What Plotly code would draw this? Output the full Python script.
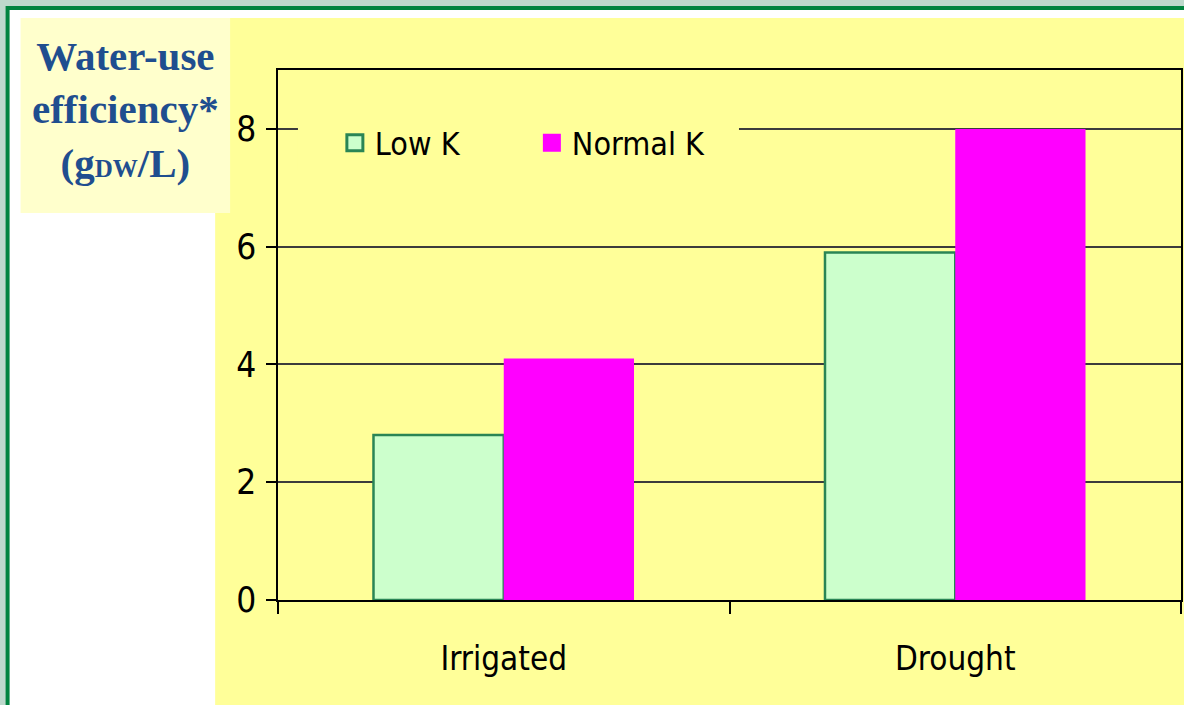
import plotly.graph_objects as go

# ---- data ----
categories = ["Irrigated", "Drought"]
low_k = [2.8, 5.9]
normal_k = [4.1, 8.0]
series_names = ["Low K", "Normal K"]
y_ticks = [0, 2, 4, 6, 8]
y_title_lines = ["Water-use", "efficiency*", "(g<span style='font-size:25px'>DW</span>/L)"]

W, H = 1184, 705
L, R, T, B = 278, 1, 70, 105
PW, PH = W - L - R, H - T - B


def px(x):
    return (x - L) / PW


def py(y):
    return (H - B - y) / PH


LOW_FILL = "#CCFFCC"
LOW_LINE = "#2A8555"
NORM_FILL = "#FF00FF"
TICK_FONT = "DejaVu Sans Condensed, Liberation Sans Narrow, Arial Narrow, sans-serif"

fig = go.Figure()
fig.add_trace(go.Bar(x=categories, y=low_k, name=series_names[0], showlegend=False,
                     marker=dict(color=LOW_FILL, line=dict(color=LOW_LINE, width=2.5))))
fig.add_trace(go.Bar(x=categories, y=normal_k, name=series_names[1], showlegend=False,
                     marker=dict(color=NORM_FILL, line=dict(color=NORM_FILL, width=0))))
# legend swatches
fig.add_trace(go.Scatter(x=[None], y=[None], mode="markers", name=series_names[0],
                         marker=dict(symbol="square", size=16, color=LOW_FILL,
                                     line=dict(color=LOW_LINE, width=3))))
fig.add_trace(go.Scatter(x=[None], y=[None], mode="markers", name=series_names[1],
                         marker=dict(symbol="square", size=16, color=NORM_FILL,
                                     line=dict(color=NORM_FILL, width=2))))

shapes = [
    dict(type="rect", xref="paper", yref="paper", x0=px(7), x1=px(W + 20), y0=py(8), y1=py(H + 20),
         fillcolor="white", line=dict(color="#00843F", width=4), layer="below"),
    dict(type="rect", xref="paper", yref="paper", x0=px(215), x1=px(W + 20), y0=py(18), y1=py(H + 20),
         fillcolor="#FFFF99", line=dict(width=0), layer="below"),
    dict(type="rect", xref="paper", yref="paper", x0=px(20), x1=px(230), y0=py(18), y1=py(213),
         fillcolor="#FFFFCC", line=dict(width=0), layer="below"),
    # legend background band (drawn under the legend, over the gridline)
    dict(type="rect", xref="paper", yref="paper", x0=px(298), x1=px(740), y0=py(170), y1=py(118),
         fillcolor="#FFFF99", line=dict(width=0), layer="above"),
]

fig.update_layout(
    width=W, height=H,
    margin=dict(l=L, r=R, t=T, b=B, pad=0),
    paper_bgcolor="#BDD9CC",
    plot_bgcolor="#FFFF99",
    barmode="group",
    bargap=0.423,
    bargroupgap=0,
    shapes=shapes,
    showlegend=True,
    legend=dict(orientation="h", x=px(335), y=py(143), xanchor="left", yanchor="middle",
                bgcolor="rgba(0,0,0,0)", borderwidth=0, entrywidth=152, entrywidthmode="pixels",
                font=dict(family=TICK_FONT, size=32, color="black"),
                itemsizing="trace", tracegroupgap=0),
    annotations=[dict(xref="paper", yref="paper", x=px(125), y=py(109), xanchor="center", yanchor="middle",
                      text="<b>" + "<br>".join(y_title_lines) + "</b>", showarrow=False,
                      font=dict(family="Liberation Serif, Times New Roman, serif", size=41, color="#1F4E8F"),
                      align="center")],
    xaxis=dict(type="category", showline=True, linecolor="black", linewidth=1.5, mirror=True,
               ticks="outside", tickson="boundaries", ticklen=12, tickcolor="black", tickwidth=1.5,
               tickfont=dict(family=TICK_FONT, size=33, color="black"), ticklabelstandoff=29,
               showgrid=False, fixedrange=True),
    yaxis=dict(range=[0, 9], tickvals=y_ticks, showline=True, linecolor="black", linewidth=1.5, mirror=True,
               ticks="outside", ticklen=10, tickcolor="black", tickwidth=1.5,
               tickfont=dict(family=TICK_FONT, size=35, color="black"), ticklabelstandoff=3,
               showgrid=True, gridcolor="#3C3C3C", gridwidth=1.5, zeroline=False, fixedrange=True),
)

fig.write_html("out.html", config={"displayModeBar": False},
               post_script="document.body.style.margin='0';document.body.style.padding='0';"
                           "document.body.style.overflow='hidden';")
